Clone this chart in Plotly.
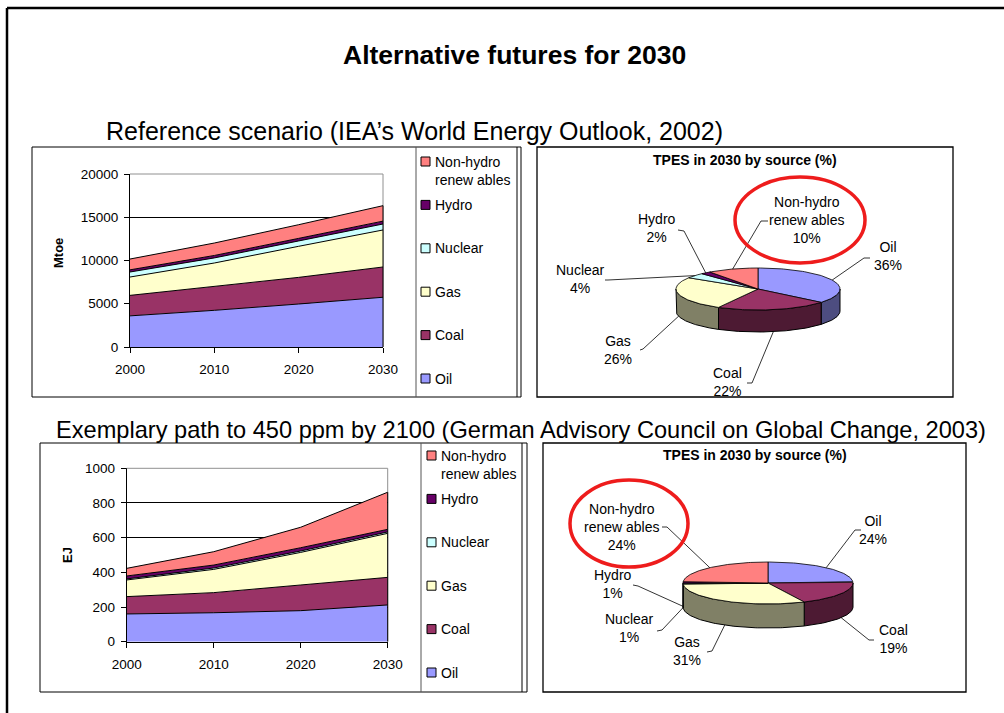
import numpy as np
import plotly.graph_objects as go

W, H = 1004, 713
FONT = "Liberation Sans, Arial, sans-serif"

# ---------------- data ----------------
years = [2000, 2010, 2020, 2030]
sources = ["Oil", "Coal", "Gas", "Nuclear", "Hydro", "Non-hydro<br>renew ables"]

# Reference scenario (Mtoe)
ref_oil = [3600, 4240, 4970, 5750]
ref_coal = [2370, 2770, 3080, 3500]
ref_gas = [2120, 2700, 3590, 4280]
ref_nuclear = [580, 590, 620, 690]
ref_hydro = [250, 280, 300, 330]
ref_nhr = [1250, 1440, 1580, 1790]

# Exemplary 450 ppm path (EJ)
alt_oil = [160, 167, 179, 212]
alt_coal = [100, 116, 148, 159]
alt_gas = [96, 134, 188, 254]
alt_nuclear = [6, 8, 8, 8]
alt_hydro = [17, 17, 19, 15]
alt_nhr = [44, 77, 118, 214]

# TPES shares in 2030 (%)
ref_share_2030 = [36, 22, 26, 4, 2, 10]
alt_share_2030 = [24, 19, 31, 1, 1, 24]

ref_ticks_y = [0, 5000, 10000, 15000, 20000]
alt_ticks_y = [0, 200, 400, 600, 800, 1000]

# ---------------- style ----------------
face = ["#9999FF", "#993366", "#FFFFCC", "#CCFFFF", "#660066", "#FF8080"]
side = ["#4D4D80", "#4D1A33", "#808066", "#668080", "#330033", "#804040"]

fig = go.Figure()

def xp(x):
    return x / W

def yp(y):
    return 1 - y / H

# ---------------- stacked area charts ----------------
ref_series = [ref_oil, ref_coal, ref_gas, ref_nuclear, ref_hydro, ref_nhr]
alt_series = [alt_oil, alt_coal, alt_gas, alt_nuclear, alt_hydro, alt_nhr]

for i, vals in enumerate(ref_series):
    fig.add_trace(go.Scatter(x=years, y=vals, stackgroup="ref", mode="lines",
                             line=dict(color="black", width=1), fillcolor=face[i],
                             xaxis="x", yaxis="y", showlegend=False, hoverinfo="skip"))
for i, vals in enumerate(alt_series):
    fig.add_trace(go.Scatter(x=years, y=vals, stackgroup="alt", mode="lines",
                             line=dict(color="black", width=1), fillcolor=face[i],
                             xaxis="x2", yaxis="y2", showlegend=False, hoverinfo="skip"))

# ---------------- 3D pies (pixel axis x3/y3) ----------------
def pie3d(shares, cx, cy, rx, ry, depth, n=80):
    tot = float(sum(shares))
    cum = np.concatenate([[0.0], np.cumsum(shares)]) / tot * 360.0
    # sides (front half only)
    for i in range(len(shares)):
        s0, s1 = max(cum[i], 90.0), min(cum[i + 1], 270.0)
        if s1 > s0:
            t = np.radians(np.linspace(s0, s1, n))
            xs = cx + rx * np.sin(t)
            ys = cy - ry * np.cos(t)
            X = np.concatenate([xs, xs[::-1], xs[:1]])
            Y = np.concatenate([ys, ys[::-1] + depth, ys[:1]])
            fig.add_trace(go.Scatter(x=X, y=Y, mode="lines", fill="toself",
                                     fillcolor=side[i], line=dict(color="black", width=1),
                                     xaxis="x3", yaxis="y3", showlegend=False, hoverinfo="skip"))
    # top faces
    for i in range(len(shares)):
        t = np.radians(np.linspace(cum[i], cum[i + 1], n))
        X = np.concatenate([[cx], cx + rx * np.sin(t), [cx]])
        Y = np.concatenate([[cy], cy - ry * np.cos(t), [cy]])
        fig.add_trace(go.Scatter(x=X, y=Y, mode="lines", fill="toself",
                                 fillcolor=face[i], line=dict(color="black", width=0.8),
                                 xaxis="x3", yaxis="y3", showlegend=False, hoverinfo="skip"))
    # anchor points for leader lines
    anchors = []
    for i in range(len(shares)):
        m = (cum[i] + cum[i + 1]) / 2
        ax = cx + rx * np.sin(np.radians(m))
        ay = cy - ry * np.cos(np.radians(m))
        if 90 <= m <= 275:
            ay += depth
        anchors.append((ax, ay))
    return anchors

annotations = []

def label_pie(shares, anchors, lbl_xy, hooks):
    for i in range(len(shares)):
        (hx0, hy0), (hx1, hy1) = hooks[i]
        ax, ay = anchors[i]
        fig.add_trace(go.Scatter(x=[hx0, hx1, ax], y=[hy0, hy1, ay], mode="lines",
                                 line=dict(color="black", width=0.8),
                                 xaxis="x3", yaxis="y3", showlegend=False, hoverinfo="skip"))
        annotations.append(dict(x=lbl_xy[i][0], y=lbl_xy[i][1], xref="x3", yref="y3",
                                text=f"{sources[i]}<br>{shares[i]}%", showarrow=False,
                                font=dict(family=FONT, size=14, color="black"),
                                xanchor="center", yanchor="middle", align="center"))

ref_anchors = pie3d(ref_share_2030, 758, 289, 82, 21, 22)
alt_anchors = pie3d(alt_share_2030, 768, 583, 85, 21, 24)

ref_lbl_xy = [(888, 256), (727, 382), (618, 350), (580, 279), (657, 228), (807, 220)]
ref_hooks = [((870, 258), (864, 258)), ((747, 383), (752, 383)), ((640, 350), (643, 349)),
             ((605, 280), (608, 280)), ((678, 230), (684, 231)), ((768, 221), (761, 221))]
alt_lbl_xy = [(873, 530), (893, 639), (687, 651), (629, 628), (613, 584), (622, 527)]
alt_hooks = [((861, 530), (855, 530)), ((874, 640), (869, 640)), ((707, 652), (712, 651)),
             ((657, 631), (662, 630)), ((633, 585), (638, 586)), ((662, 527), (667, 527))]

label_pie(ref_share_2030, ref_anchors, ref_lbl_xy, ref_hooks)
label_pie(alt_share_2030, alt_anchors, alt_lbl_xy, alt_hooks)

# ---------------- manual legends ----------------
def legend(x_sq, x_txt, y0, step):
    order = list(range(len(sources)))[::-1]
    ys = [y0 + k * step for k in range(len(order))]
    fig.add_trace(go.Scatter(x=[x_sq] * len(order), y=ys, mode="markers",
                             marker=dict(symbol="square", size=9,
                                         color=[face[i] for i in order],
                                         line=dict(color="black", width=1)),
                             xaxis="x3", yaxis="y3", showlegend=False, hoverinfo="skip"))
    for k, i in enumerate(order):
        nlines = sources[i].count("<br>") + 1
        annotations.append(dict(x=x_txt, y=ys[k] + (nlines - 1) * 9, xref="x3", yref="y3",
                                text=sources[i], showarrow=False, align="left",
                                font=dict(family=FONT, size=14, color="black"),
                                xanchor="left", yanchor="middle"))

legend(425.5, 433, 161.5, 43.4)
legend(431.5, 439, 455.5, 43.4)

# ---------------- texts ----------------
def txt(x, y, s, size, bold=False, anchor="center", angle=0):
    annotations.append(dict(x=x, y=y, xref="x3", yref="y3", text=f"<b>{s}</b>" if bold else s,
                            showarrow=False, textangle=angle,
                            font=dict(family=FONT, size=size, color="black"),
                            xanchor=anchor, yanchor="middle"))

txt(514, 55, "Alternative futures for 2030", 26.5, bold=True)
txt(104, 131, "Reference scenario (IEA’s World Energy Outlook, 2002)", 25, anchor="left")
txt(54, 430, "Exemplary path to 450 ppm by 2100 (German Advisory Council on Global Change, 2003)", 23.6, anchor="left")
txt(745, 160, "TPES in 2030 by source (%)", 14, bold=True)
txt(755, 455, "TPES in 2030 by source (%)", 14, bold=True)
txt(58, 253, "Mtoe", 13, bold=True, angle=-90)
txt(67, 555, "EJ", 13, bold=True, angle=-90)

# ---------------- shapes ----------------
shapes = []
def line(x0, y0, x1, y1, color="black", width=1, xref="x3", yref="y3", layer="above"):
    shapes.append(dict(type="line", xref=xref, yref=yref, x0=x0, y0=y0, x1=x1, y1=y1,
                       line=dict(color=color, width=width), layer=layer))
def rect(x0, y0, x1, y1, color="black", width=1):
    shapes.append(dict(type="rect", xref="x3", yref="y3", x0=x0, y0=y0, x1=x1, y1=y1,
                       line=dict(color=color, width=width), layer="above"))

line(7, 8, W, 8, width=2.5)
line(7, 8, 7, H, width=2.5)
rect(32, 147, 521, 397)
line(416, 147, 416, 397, color="#555555")
line(517, 147, 517, 397)
rect(40, 443, 527, 692)
line(421, 443, 421, 692, color="#555555")
line(522, 443, 522, 692)
rect(537, 147, 953, 397, width=1.3)
rect(543, 443, 966, 692, width=1.3)
# red highlight ellipses
for (x0, y0, x1, y1) in [(735, 177, 865, 263), (570, 480, 688, 567)]:
    shapes.append(dict(type="circle", xref="x3", yref="y3", x0=x0, y0=y0, x1=x1, y1=y1,
                       line=dict(color="#EE1C1C", width=3.5), layer="above"))
# grey plot-area borders (top above the top gridline, right below the areas)
for xr, yr in [("x domain", "y domain"), ("x2 domain", "y2 domain")]:
    line(0, 1, 1, 1, color="#909090", xref=xr, yref=yr, layer="above")
    line(1, 0, 1, 1, color="#909090", xref=xr, yref=yr, layer="below")
# black right edge of the stacked areas at the last year
for xr, yr, series in [("x domain", "y", ref_series), ("x2 domain", "y2", alt_series)]:
    line(1, 0, 1, sum(v[-1] for v in series), color="black", xref=xr, yref=yr, layer="above")

axis_common = dict(showline=True, linecolor="black", linewidth=1, ticks="outside",
                   ticklen=5, tickcolor="black", zeroline=False, automargin=False,
                   tickfont=dict(family=FONT, size=13.5, color="black"))

fig.update_layout(
    width=W, height=H, margin=dict(l=0, r=0, t=0, b=0, pad=0, autoexpand=False),
    autosize=False,
    paper_bgcolor="white", plot_bgcolor="rgba(0,0,0,0)",
    showlegend=False,
    xaxis=dict(domain=[xp(130), xp(383)], anchor="y", range=[2000, 2030], tickvals=years,
               showgrid=False, ticklabelstandoff=5, **axis_common),
    yaxis=dict(domain=[yp(347), yp(174)], anchor="x", range=[0, 20000], tickvals=ref_ticks_y,
               tickformat="d", showgrid=True, gridcolor="black", gridwidth=1,
               ticklabelstandoff=3, **axis_common),
    xaxis2=dict(domain=[xp(126.7), xp(387.7)], anchor="y2", range=[2000, 2030], tickvals=years,
                showgrid=False, ticklabelstandoff=5, **axis_common),
    yaxis2=dict(domain=[yp(641.7), yp(468.3)], anchor="x2", range=[0, 1000], tickvals=alt_ticks_y,
                tickformat="d", showgrid=True, gridcolor="black", gridwidth=1,
                ticklabelstandoff=3, **axis_common),
    xaxis3=dict(domain=[0, 1], anchor="y3", range=[0, W], visible=False, fixedrange=True,
                automargin=False),
    yaxis3=dict(domain=[0, 1], anchor="x3", range=[H, 0], visible=False, fixedrange=True,
                automargin=False),
    annotations=annotations,
    shapes=shapes,
)

fig.write_html("out.html")
